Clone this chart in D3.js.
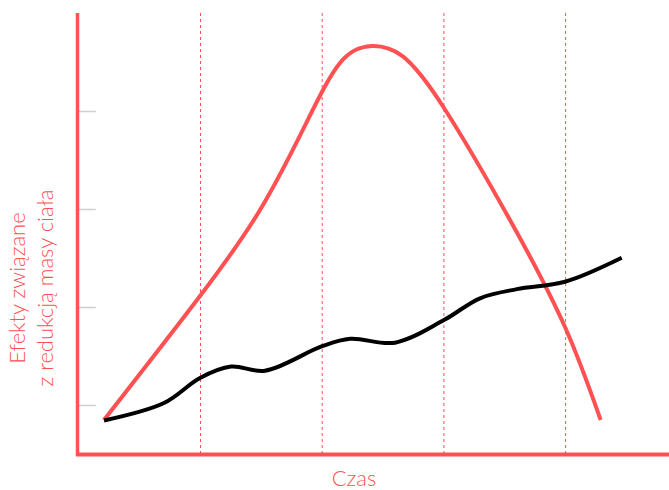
<!DOCTYPE html>
<html>
<head>
<meta charset="utf-8">
<script src="https://cdn.jsdelivr.net/npm/d3@7"></script>
<style>
  html, body { margin: 0; padding: 0; background: #fff; }
  svg { display: block; }
</style>
</head>
<body>
<svg id="chart" width="669" height="490"></svg>
<script>
// ---- data ----
const timeDividers = [1, 2, 3, 4];
const yTicks = [1, 2, 3, 4];
const xLabel = "Czas";
const yLabelLines = ["Efekty związane", "z redukcją masy ciała"];

const redT = [0.207, 0.996, 1.489, 1.850, 2.146, 2.407, 2.660, 3.001, 3.543, 3.995, 4.288];
const redV = [0.847, 2.112, 2.990, 3.830, 4.490, 4.663, 4.560, 4.031, 2.888, 1.796, 0.847];

const blackT = [0.207, 0.700, 0.996, 1.250, 1.530, 2.000, 2.230, 2.598, 3.001, 3.297, 3.600, 3.995, 4.461];
const blackV = [0.842, 1.020, 1.276, 1.392, 1.350, 1.600, 1.675, 1.636, 1.867, 2.089, 2.182, 2.258, 2.503];

// ---- chart ----
const RED = "#ff5052";
const svg = d3.select("#chart");
const x = d3.scaleLinear().domain([0, 5]).range([78.8, 687.3]);
const y = d3.scaleLinear().domain([0.5, 5]).range([454, 13]);

// y tick marks (light gray)
svg.append("g")
  .attr("transform", `translate(${x(0)},0)`)
  .call(d3.axisRight(y).tickValues(yTicks).tickSize(17).tickFormat(""))
  .call(g => g.select(".domain").remove())
  .call(g => g.selectAll("line").attr("stroke", "#cfcfcf").attr("stroke-width", 1.5));

// vertical dashed dividers
svg.append("g").selectAll("line").data(timeDividers).join("line")
  .attr("x1", d => x(d)).attr("x2", d => x(d))
  .attr("y1", y(5)).attr("y2", y(0.5))
  .attr("stroke", RED).attr("stroke-width", 1)
  .attr("stroke-dasharray", "3,3");

// axes lines
svg.append("line")
  .attr("x1", 77.5).attr("x2", 77.5).attr("y1", 13).attr("y2", 456)
  .attr("stroke", RED).attr("stroke-width", 3.5);
svg.append("line")
  .attr("x1", 76).attr("x2", 669).attr("y1", 454.5).attr("y2", 454.5)
  .attr("stroke", RED).attr("stroke-width", 4);

const redLine = d3.line().x(d => x(d[0])).y(d => y(d[1])).curve(d3.curveNatural);
const blackLine = d3.line().x(d => x(d[0])).y(d => y(d[1])).curve(d3.curveCatmullRom.alpha(0.5));

svg.append("path")
  .datum(d3.zip(redT, redV))
  .attr("d", redLine)
  .attr("fill", "none").attr("stroke", RED).attr("stroke-width", 4);

svg.append("path")
  .datum(d3.zip(blackT, blackV))
  .attr("d", blackLine)
  .attr("fill", "none").attr("stroke", "#000").attr("stroke-width", 4);

// labels
svg.append("text")
  .attr("x", 354).attr("y", 486)
  .attr("text-anchor", "middle")
  .attr("font-family", "Lato, 'Open Sans', sans-serif")
  .attr("font-weight", 300)
  .attr("font-size", 22)
  .attr("fill", RED)
  .text(xLabel);

const yl = svg.append("text")
  .attr("transform", "translate(25,288) rotate(-90)")
  .attr("text-anchor", "middle")
  .attr("font-family", "Lato, 'Open Sans', sans-serif")
  .attr("font-weight", 300)
  .attr("font-size", 22)
  .attr("fill", RED);
yLabelLines.forEach((t, i) => {
  yl.append("tspan").attr("x", 0).attr("dy", i === 0 ? 0 : 28).text(t);
});
</script>
</body>
</html>
